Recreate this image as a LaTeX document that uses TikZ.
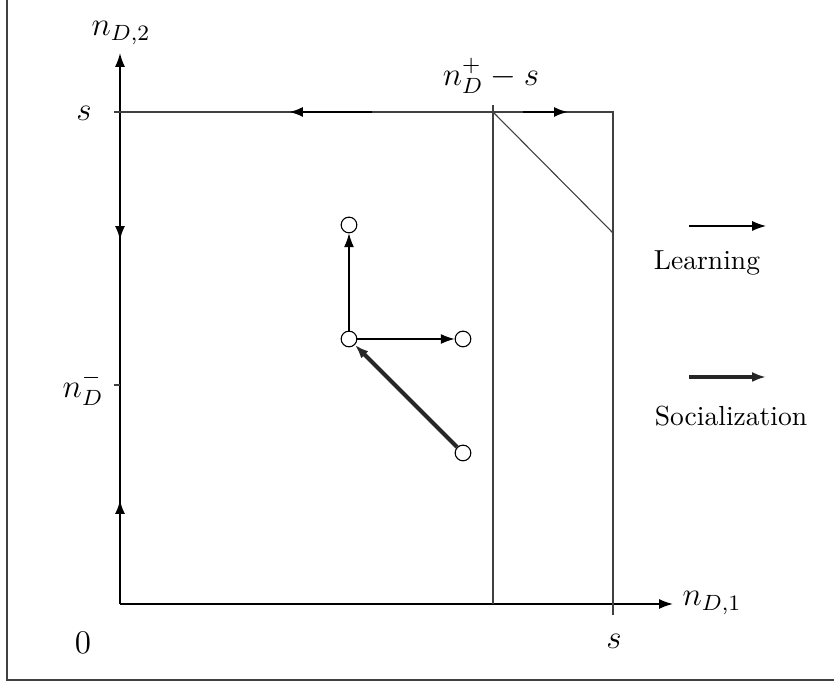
\documentclass[tikz,border=0pt]{standalone}
\usetikzlibrary{arrows.meta}
\begin{document}
\begin{tikzpicture}[x=0.01275cm,y=-0.01275cm,
    dot/.style={circle,draw,fill=white,inner sep=0pt,minimum size=0.2cm},
    thinline/.style={black!75,line width=0.4pt},
    learn/.style={-{Latex[length=5pt,width=3.6pt]},line width=0.4pt},
    social/.style={-{Latex[length=5pt,width=3.6pt]},line width=1.5pt,black!85},
    flow/.style={-{Latex[length=5pt,width=3.6pt]},line width=0.8pt},
    axis/.style={-{Latex[length=5pt,width=3.6pt]},line width=0.6pt}]
  \useasboundingbox (0,0) rectangle (834,682);
  % frame
  \draw[black!75,line width=0.7pt] (7,0) -- (7,680) -- (834,680);
  % axes
  \coordinate (O) at (120,604);
  \coordinate (xend) at (673,604);
  \coordinate (yend) at (120,53);
  \draw[axis] (O) -- (xend);
  \draw[axis] (O) -- (yend);
  \node (xlab) at (712,603) {\large $n_{D,1}$};
  \node (ylab) at (121,33) {\large $n_{D,2}$};
  \node (zero) at (83,643) {\large $0$};
  \node (sx) at (614,641) {\large $s$};
  \node (sy) at (84,113) {\large $s$};
  \node (nminus) at (83,388) {\large $n_D^-$};
  \node (nplus) at (491,76) {\large $n_D^+ - s$};
  \draw[thinline] (114,385) -- (120,385);
  % region
  \coordinate (sl) at (114,112);
  \coordinate (A) at (493,112);
  \coordinate (Atop) at (493,105);
  \coordinate (Abot) at (493,604);
  \coordinate (B) at (613,112);
  \coordinate (C) at (613,233);
  \coordinate (Bbot) at (613,615);
  \draw[thinline] (sl) -- (B) -- (Bbot);
  \draw[thinline] (Atop) -- (Abot);
  \draw[thinline] (A) -- (C);
  % flows on the border
  \draw[flow] (372,112) -- (289,112);
  \draw[flow] (523,112) -- (568,112);
  \draw[flow] (120,215) -- (120,240);
  \draw[flow] (120,525) -- (120,500);
  % states
  \node[dot] (c1) at (349,225) {};
  \node[dot] (c2) at (349,339) {};
  \node[dot] (c3) at (463,339) {};
  \node[dot] (c4) at (463,453) {};
  \draw[learn] (c2) -- (c1);
  \draw[learn] (c2) -- (c3);
  \draw[social] (c4) -- (c2);
  % legend
  \coordinate (l1a) at (689,226);
  \coordinate (l1b) at (766,226);
  \draw[learn] (l1a) -- (l1b);
  \node (learning) at (707,263) {Learning};
  \coordinate (l2a) at (689,377);
  \coordinate (l2b) at (766,377);
  \draw[social] (l2a) -- (l2b);
  \node (socialization) at (731,416) {Socialization};
\end{tikzpicture}
\end{document}
